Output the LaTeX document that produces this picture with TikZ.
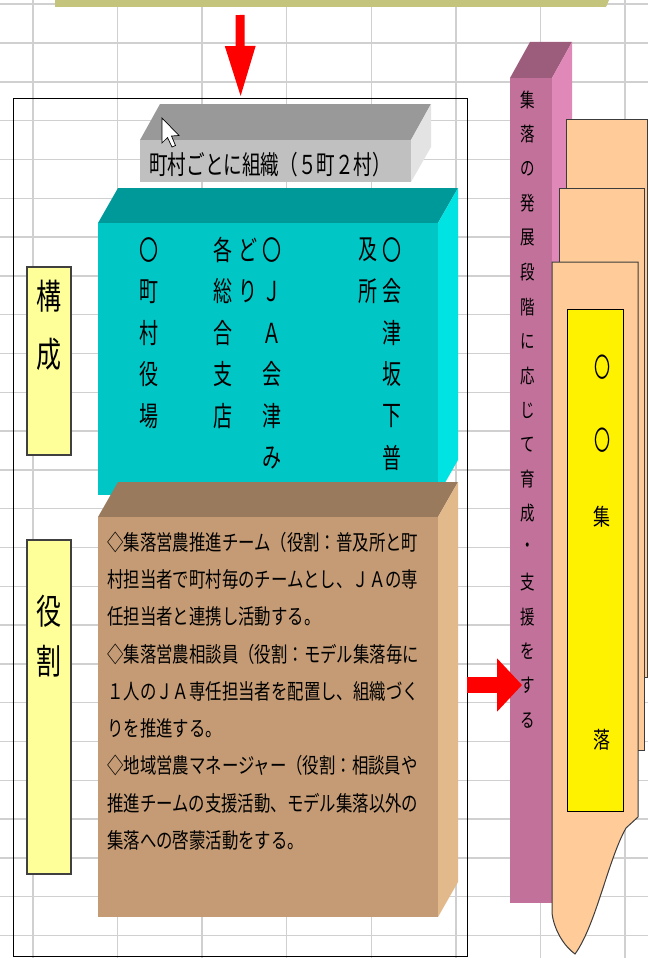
\documentclass[tikz,border=0pt]{standalone}
\usepackage{fontspec}
\usepackage{graphicx}
\usetikzlibrary{arrows.meta}
\newfontfamily\jp{Noto Sans CJK JP}
\newcommand\vsc[2]{\scalebox{1}[#1]{#2}}
\definecolor{gridc}{RGB}{208,208,208}
\definecolor{olivebar}{RGB}{196,196,124}
\definecolor{graytop}{RGB}{153,153,153}
\definecolor{grayfront}{RGB}{192,192,192}
\definecolor{grayside}{RGB}{227,227,227}
\definecolor{tealtop}{RGB}{0,153,153}
\definecolor{tealfront}{RGB}{0,198,198}
\definecolor{tealside}{RGB}{0,227,227}
\definecolor{browntop}{RGB}{154,122,92}
\definecolor{brownfront}{RGB}{196,155,116}
\definecolor{brownside}{RGB}{226,185,138}
\definecolor{pinktop}{RGB}{156,92,124}
\definecolor{pinkfront}{RGB}{194,114,154}
\definecolor{pinkside}{RGB}{224,136,184}
\definecolor{peach}{RGB}{255,204,153}
\definecolor{paleyellow}{RGB}{255,255,153}
\definecolor{edgec}{RGB}{60,60,60}
\begin{document}
\begin{tikzpicture}[x=1pt,y=-1pt,
  gridline/.style={draw=gridc,line width=1.4pt},
  card/.style={fill=peach,draw=edgec,line width=1pt},
  labelbox/.style={fill=paleyellow,draw=black!75,line width=1.3pt},
  txt/.style={inner sep=0pt,font=\jp\fontsize{#1}{#1}\selectfont},
]
\useasboundingbox (0,0) rectangle (648,958);
\fill[white] (0,0) rectangle (648,958);
% grid
\foreach \k in {0,...,7} \draw[gridline] ({33+84.58*\k},0) -- ({33+84.58*\k},958);
\foreach \k in {-1,...,23} \draw[gridline] (0,{43+38.8*\k}) -- (648,{43+38.8*\k});
% olive bar at top
\fill[olivebar] (55,0) -- (609,0) -- (606,7) -- (55,7) -- cycle;
% frame
\node[draw=black,line width=1.3pt,minimum width=454pt,minimum height=858pt,anchor=north west,inner sep=0pt] (frame) at (13,98) {};
% down arrow
\coordinate (dstart) at (240,15);
\draw[draw=red,line width=9pt,-{Triangle[width=28pt,length=52pt,fill=red]}] (dstart) -- (frame.north);
% gray 3D box
\fill[graytop] (140,140) -- (160,104) -- (431,104) -- (411,140) -- cycle;
\fill[grayside] (411,140) -- (431,104) -- (431,147) -- (411,182) -- cycle;
\fill[grayfront] (140,140) rectangle (411,182);
\node[txt=18.6,anchor=west] (graytxt) at (149,165) {\vsc{1.4}{町村ごとに組織（５町２村）}};
% cursor
\draw[fill=white,draw=black,line width=0.7pt] (162,118) -- (162,143) -- (167.5,137.5) -- (172,147) -- (175.5,145.5) -- (171.5,136) -- (179,135.5) -- cycle;
% teal 3D box
\fill[tealtop] (98,223) -- (118,188) -- (458,188) -- (438,223) -- cycle;
\fill[tealside] (438,223) -- (458,188) -- (458,460) -- (438,495) -- cycle;
\fill[tealfront] (98,223) rectangle (438,495);
\foreach \ch [count=\i] in {〇,町,村,役,場} \node[txt=19] (ca\i) at (149,{250+41.5*(\i-1)}) {\vsc{1.45}{\ch}};
\foreach \ch [count=\i] in {各,総,合,支,店} \node[txt=19] (cb\i) at (223,{250+41.5*(\i-1)}) {\vsc{1.45}{\ch}};
\foreach \ch [count=\i] in {ど,り} \node[txt=19] (cc\i) at (248,{250+41.5*(\i-1)}) {\vsc{1.45}{\ch}};
\foreach \ch [count=\i] in {〇,Ｊ,Ａ,会,津,み} \node[txt=19] (cd\i) at (272,{250+41.5*(\i-1)}) {\vsc{1.45}{\ch}};
\foreach \ch [count=\i] in {及,所} \node[txt=19] (ce\i) at (368,{250+41.5*(\i-1)}) {\vsc{1.45}{\ch}};
\foreach \ch [count=\i] in {〇,会,津,坂,下,普} \node[txt=19] (cf\i) at (392,{250+41.5*(\i-1)}) {\vsc{1.45}{\ch}};
% brown 3D box
\fill[browntop] (98,517) -- (118,482) -- (458,482) -- (438,517) -- cycle;
\fill[brownside] (438,517) -- (458,482) -- (458,882) -- (438,917) -- cycle;
\fill[brownfront] (98,517) rectangle (438,917);
\foreach \t [count=\i] in {◇集落営農推進チーム（役割：普及所と町,村担当者で町村毎のチームとし、ＪＡの専,任担当者と連携し活動する。,◇集落営農相談員（役割：モデル集落毎に,１人のＪＡ専任担当者を配置し、組織づく,りを推進する。,◇地域営農マネージャー（役割：相談員や,推進チームの支援活動、モデル集落以外の,集落への啓蒙活動をする。}
  \node[txt=16.4,anchor=west] (r\i) at (107,{542+37.3*(\i-1)}) {\vsc{1.3}{\t}};
% left label boxes
\draw[labelbox] (27,267) rectangle (71,455);
\node[txt=25] (k1) at (49,296) {\vsc{1.4}{構}};
\node[txt=25] (k2) at (49,354) {\vsc{1.4}{成}};
\draw[labelbox] (27,540) rectangle (71,874);
\node[txt=25] (y1) at (49,611) {\vsc{1.4}{役}};
\node[txt=25] (y2) at (49,661) {\vsc{1.4}{割}};
% pink 3D bar
\fill[pinktop] (510,78) -- (530,42) -- (572,42) -- (552,78) -- cycle;
\fill[pinkside] (552,78) -- (572,42) -- (572,870) -- (552,903) -- cycle;
\fill[pinkfront] (510,78) rectangle (552,903);
\foreach \ch [count=\i] in {集,落,の,発,展,段,階,に,応,じ,て,育,成,・,支,援,を,す,る}
  \node[txt=14.5] (p\i) at (528,{100+34.45*(\i-1)}) {\vsc{1.35}{\ch}};
% right arrow
\coordinate (rs) at (467,685);
\coordinate (re) at (522,685);
\draw[draw=red,line width=16pt,-{Triangle[width=52pt,length=25pt,fill=red]}] (rs) -- (re);
% peach cards
\draw[card] (566,119) rectangle (647.5,677);
\draw[card] (559,188) rectangle (644,750);
\draw[card] (552,262) -- (638,262) -- (638,817) -- (626,828) .. controls (608,860) and (596,925) .. (575,954) .. controls (564,946) and (554,930) .. (552,913) -- cycle;
\draw[fill=yellow,draw=black,line width=1pt] (567,309) rectangle (623,811);
\node[txt=16] (s1) at (602,367) {\vsc{1.7}{〇}};
\node[txt=16] (s2) at (602,440) {\vsc{1.7}{〇}};
\node[txt=17] (s3) at (602,517) {\vsc{1.35}{集}};
\node[txt=17] (s4) at (602,740) {\vsc{1.35}{落}};
\end{tikzpicture}
\end{document}
